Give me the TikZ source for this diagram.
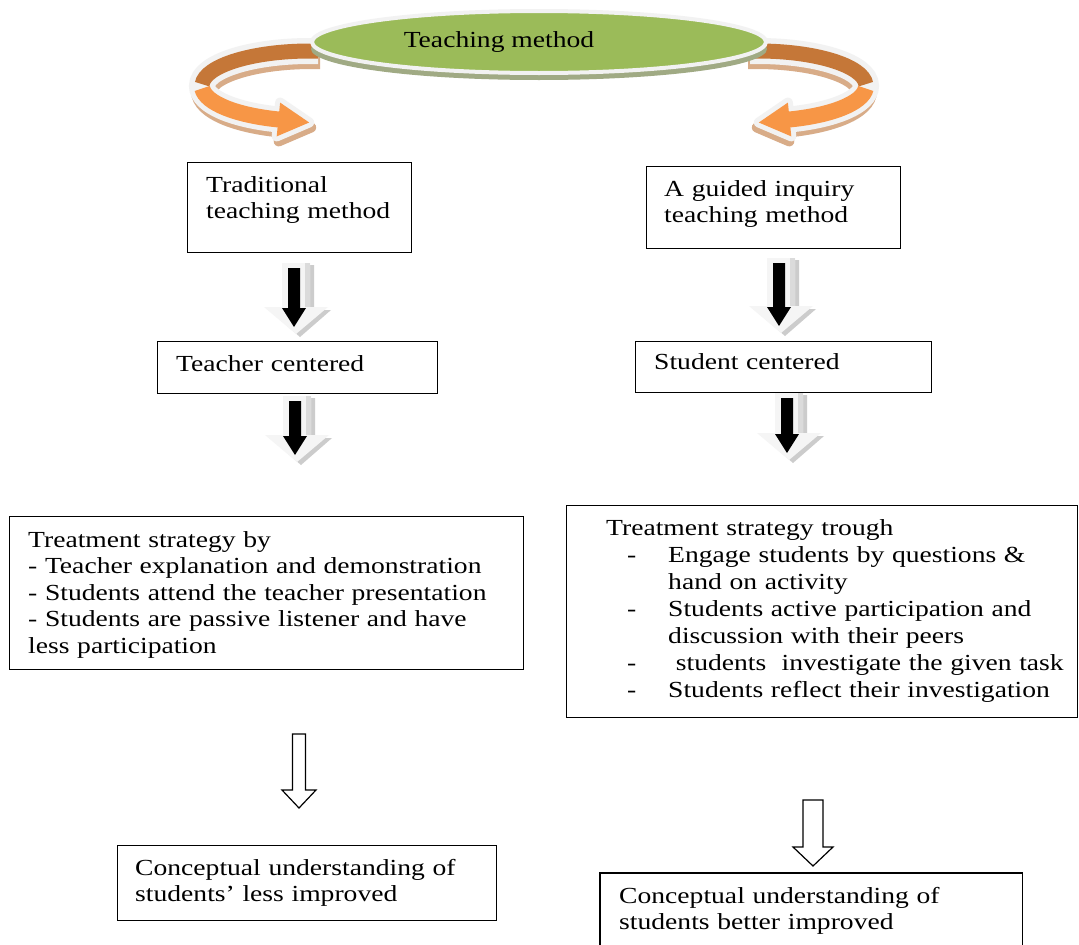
\documentclass[tikz,border=0pt]{standalone}
\usepackage{fontspec}
\setmainfont{Liberation Serif}[FakeStretch=1.2]
\usetikzlibrary{shapes.geometric}
\definecolor{tmgreen}{RGB}{155,187,89}
\definecolor{tmshadow}{RGB}{160,170,132}
\definecolor{darkor}{RGB}{197,119,56}
\definecolor{lightor}{RGB}{247,150,70}
\definecolor{tanshadow}{RGB}{216,172,136}
\definecolor{rim}{RGB}{242,242,242}
\tikzset{
  box/.style={draw=black, line width=1.3pt, rectangle, inner sep=0pt, anchor=north west},
  txt/.style={anchor=base west, inner sep=0pt, align=left, text width=500pt, font=\fontsize{23}{26.5}\selectfont},
  hollow/.style={draw=black, line width=1.2pt, fill=white, line join=miter},
}
% cx, top, tip
\newcommand{\blockdown}[3]{%
  \begin{scope}[shift={(#1,0)}]
    \fill[gray!40] (-10,{#2+2}) -- (18,{#2+2}) -- (18,{#3-24}) -- (35,{#3-24}) -- (4,{#3+3}) -- (-27,{#3-24}) -- (-10,{#3-24}) -- cycle;
    \fill[gray!8] (-14,#2) -- (14,#2) -- (14,{#3-27}) -- (32,{#3-27}) -- (0,#3) -- (-32,{#3-27}) -- (-14,{#3-27}) -- cycle;
    \fill[gray!28] (9,#2) -- (14,#2) -- (14,{#3-27}) -- (9,{#3-27}) -- cycle;
    \fill[black] (-8,{#2+5}) -- (4,{#2+5}) -- (4,{#3-26}) -- (10,{#3-26}) -- (-2,{#3-7}) -- (-14,{#3-26}) -- (-8,{#3-26}) -- cycle;
  \end{scope}}
% cx, top, headstart, tip, shafthalf, headhalf
\newcommand{\hollowdown}[6]{%
  \draw[hollow] ({#1-#5},#2) -- ({#1+#5},#2) -- ({#1+#5},#3) -- ({#1+#6},#3) -- (#1,#4) -- ({#1-#6},#3) -- ({#1-#5},#3) -- cycle;}
% one curved arrow (left one), drawn in pixel coordinates
\newcommand{\curvedarrow}{%
  \begin{scope}[shift={(2,5)}]
    \draw[tanshadow, line width=26] (318,51) -- (310,51) arc[start angle=270, end angle=107, x radius=108, y radius=35];
    \filldraw[tanshadow, line width=10, line join=round] (276.7,136.4) -- (309.2,122.5) -- (280.1,102.6) -- cycle;
  \end{scope}
  \draw[rim, line width=26] (318,51) -- (310,51) arc[start angle=270, end angle=107, x radius=108, y radius=35];
  \filldraw[rim, line width=10, line join=round] (276.7,136.4) -- (309.2,122.5) -- (280.1,102.6) -- cycle;
  \draw[darkor, line width=15] (318,51) -- (310,51) arc[start angle=270, end angle=183, x radius=108, y radius=35];
  \draw[lightor, line width=16] (310,86) ++(176:108 and 35) arc[start angle=176, end angle=106, x radius=108, y radius=35];
  \fill[lightor] (276.7,136.4) -- (309.2,122.5) -- (280.1,102.6) -- cycle;}
\begin{document}
\begin{tikzpicture}[x=1pt,y=-1pt]
\useasboundingbox (0,0) rectangle (1079,945);
\fill[white] (0,0) rectangle (1079,945);
% curved arrows
\curvedarrow
\begin{scope}[xshift=1068pt, xscale=-1]
  \curvedarrow
\end{scope}
% ellipse
\fill[tmshadow] (539,49) ellipse[x radius=228, y radius=31];
\node[ellipse, fill=tmgreen, draw=rim, line width=4pt, minimum width=454pt, minimum height=62pt, inner sep=0pt] (tm) at (539,42) {};
\node[anchor=center, inner sep=0pt, font=\fontsize{23}{26.5}\selectfont] (tmtext) at (499,42) {Teaching method};
% boxes
\node[box, minimum width=224pt, minimum height=90pt] (trad) at (187,162) {};
\node[txt] (tradtext) at (206,192) {Traditional\\teaching method};
\node[box, minimum width=254pt, minimum height=82pt] (guided) at (646,166) {};
\node[txt] (guidedtext) at (664,196) {A guided inquiry\\teaching method};
\node[box, minimum width=280pt, minimum height=52pt] (tc) at (157,341) {};
\node[txt] (tctext) at (176,371) {Teacher centered};
\node[box, minimum width=296pt, minimum height=51pt] (sc) at (635,341) {};
\node[txt] (sctext) at (654,369) {Student centered};
\node[box, minimum width=514pt, minimum height=153pt] (tsl) at (9,516) {};
\node[txt] (tsltext) at (28,547) {Treatment strategy by\\- Teacher explanation and demonstration\\- Students attend the teacher presentation\\- Students are passive listener and have\\less participation};
\node[box, minimum width=511pt, minimum height=212pt] (tsr) at (566,505) {};
\node[txt, font=\fontsize{23}{27}\selectfont] (tsrtext) at (606,535) {Treatment strategy trough\\
\makebox[62pt][l]{\hspace*{21pt}-}Engage students by questions \&\\
\hspace*{62pt}hand on activity\\
\makebox[62pt][l]{\hspace*{21pt}-}Students active participation and\\
\hspace*{62pt}discussion with their peers\\
\makebox[62pt][l]{\hspace*{21pt}-}\ students\ \ investigate the given task\\
\makebox[62pt][l]{\hspace*{21pt}-}Students reflect their investigation};
\node[box, minimum width=379pt, minimum height=75pt] (cul) at (117,845) {};
\node[txt] (cultext) at (135,875) {Conceptual understanding of\\students’ less improved};
\node[anchor=north west, inner sep=0pt, minimum width=422pt, minimum height=72pt] (cub) at (600,873) {};
\draw[line width=1.3pt] (cub.south west) -- (cub.north west) -- (cub.north east) -- (cub.south east);
\node[txt] (cubtext) at (619,903) {Conceptual understanding of\\students better improved};
% block arrows
\blockdown{296}{263}{334}
\blockdown{297}{396}{462}
\blockdown{781}{258}{333}
\blockdown{789}{393}{460}
% hollow arrows
\hollowdown{299}{734}{790}{808}{6.5}{17}
\hollowdown{813}{800}{847}{866}{10}{20}
\end{tikzpicture}
\end{document}
